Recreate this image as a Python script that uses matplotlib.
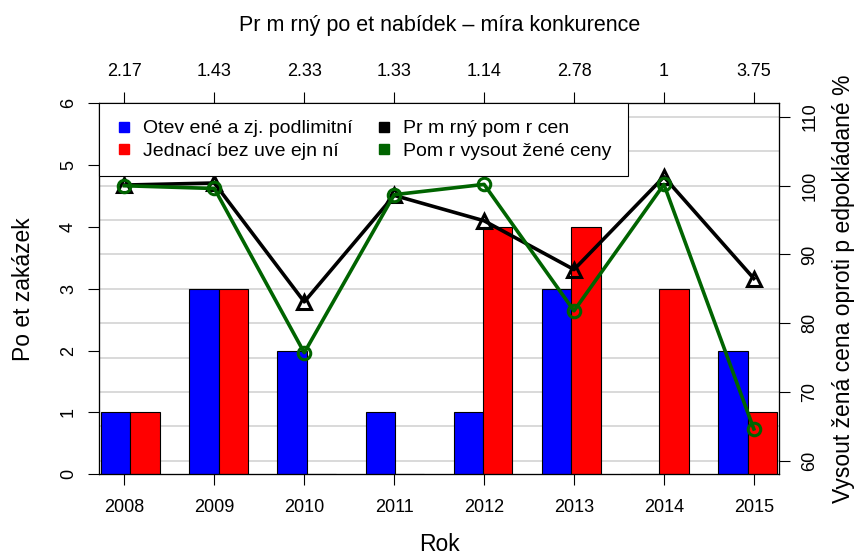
import numpy as np
import matplotlib.pyplot as plt
from matplotlib.lines import Line2D

plt.rcParams['font.family'] = ['Liberation Sans', 'DejaVu Sans']

years = ['2008', '2009', '2010', '2011', '2012', '2013', '2014', '2015']
otevrene = [1, 3, 2, 1, 1, 3, 0, 2]
jednaci = [1, 3, 0, 0, 4, 4, 3, 1]
prumerny_pomer = [100.1, 100.4, 83.1, 98.6, 94.9, 87.8, 101.3, 86.5]
vysoutezene = [100.0, 99.6, 75.7, 98.7, 100.2, 81.8, 100.2, 64.6]
nabidky = ['2.17', '1.43', '2.33', '1.33', '1.14', '2.78', '1', '3.75']

blue = '#0000FF'
red = '#FF0000'
green = '#006400'

fig = plt.figure(figsize=(8.67, 5.59), dpi=100)
pos = [0.1145, 0.1515, 0.784, 0.6637]

# vrstva 1: prava osa + mrizka
ax_r = fig.add_axes(pos)
ax_r.set_ylim(58, 112)
ax_r.set_xlim(0, 1)
for v in np.arange(60, 111, 5):
    ax_r.axhline(v, color='#D3D3D3', lw=1.2, zorder=0)
ax_r.yaxis.tick_right()
ax_r.yaxis.set_label_position('right')
ax_r.set_yticks(np.arange(60, 111, 10))
ax_r.set_yticklabels([str(v) for v in range(60, 111, 10)], rotation=90, va='center')
ax_r.set_xticks([])
ax_r.tick_params(axis='y', length=8, width=0.8, labelsize=13, pad=8)
ax_r.set_ylabel('Vysout žená cena oproti p edpokládané %', fontsize=16.5, labelpad=10)

# vrstva 2: sloupce
ax_b = fig.add_axes(pos)
ax_b.patch.set_visible(False)
n = len(years)
left_edges = 1 + 3 * np.arange(n)
ax_b.bar(left_edges, otevrene, width=1, align='edge', color=blue,
         edgecolor='black', linewidth=0.8, zorder=2)
ax_b.bar(left_edges + 1, jednaci, width=1, align='edge', color=red,
         edgecolor='black', linewidth=0.8, zorder=2)
ax_b.set_xlim(0.942, 24.068)
ax_b.set_ylim(0, 6)
ax_b.set_xticks([])
ax_b.set_yticks(range(0, 7))
ax_b.set_yticklabels([str(v) for v in range(0, 7)], rotation=90, va='center')
ax_b.tick_params(axis='y', length=8, width=0.8, labelsize=13, pad=8)
ax_b.set_ylabel('Po et zakázek', fontsize=16.5, labelpad=18)

# vrstva 3: cary
ax_l = fig.add_axes(pos)
ax_l.patch.set_visible(False)
x = np.arange(1, n + 1)
ax_l.plot(x, prumerny_pomer, color='black', lw=2.6, marker='^', markersize=10,
          markerfacecolor='none', markeredgewidth=2.2, zorder=3)
ax_l.plot(x, vysoutezene, color=green, lw=2.6, marker='o', markersize=9,
          markerfacecolor='none', markeredgewidth=2.2, zorder=4)
ax_l.set_xlim(0.72, 8.28)
ax_l.set_ylim(58, 112)
ax_l.set_yticks([])
ax_l.set_xticks(x)
ax_l.set_xticklabels(years)
ax_l.tick_params(axis='x', length=8, width=0.8, labelsize=13, pad=10)
ax_l.set_xlabel('Rok', fontsize=16.5, labelpad=12)

top = ax_l.secondary_xaxis('top')
top.set_xticks(x)
top.set_xticklabels(nabidky)
top.tick_params(length=8, width=0.8, labelsize=13, pad=9)
top.spines['top'].set_visible(False)

fig.text(0.5066, 0.955, 'Pr m rný po et nabídek – míra konkurence',
         ha='center', va='center', fontsize=15.5)

for ax in (ax_r, ax_b, ax_l):
    for s in ax.spines.values():
        s.set_linewidth(0.8)

handles = [Line2D([], [], marker='s', ls='none', color=c, markersize=7)
           for c in (blue, red, 'black', green)]
labels = ['Otev ené a zj. podlimitní', 'Jednací bez uve ejn ní',
          'Pr m rný pom r cen', 'Pom r vysout žené ceny']
leg = ax_l.legend(handles, labels, ncol=2, loc='upper left', bbox_to_anchor=(0, 1),
                  borderaxespad=0, fontsize=14, frameon=True, fancybox=False,
                  edgecolor='black', framealpha=1, handlelength=0.8,
                  handletextpad=0.6, columnspacing=1.2, labelspacing=0.25,
                  borderpad=0.85)
leg.get_frame().set_linewidth(0.8)
leg.set_zorder(10)

fig.savefig('out.png', dpi=100)
